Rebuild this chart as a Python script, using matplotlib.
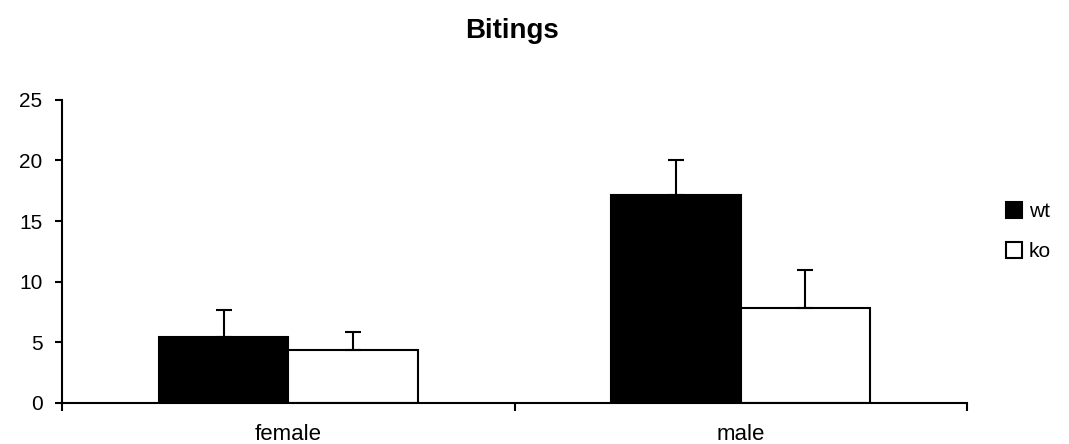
#!/usr/bin/env python3
"""Bitings bar chart: wt vs ko, female/male, one-sided error bars."""

import numpy as np
import matplotlib
matplotlib.use("Agg")
import matplotlib.pyplot as plt

plt.rcParams["font.family"] = ["Liberation Sans", "DejaVu Sans"]

# ----------------------
# Data
# ----------------------
categories = ["female", "male"]
series = ["wt", "ko"]
wt_mean = [5.45, 17.15]
wt_err = [2.2, 2.9]
ko_mean = [4.33, 7.79]
ko_err = [1.48, 3.17]
y_ticks = [0, 5, 10, 15, 20, 25]

# ----------------------
# Plot
# ----------------------
fig = plt.figure(figsize=(10.69, 4.44), dpi=100)
ax = fig.add_axes([0.058, 0.093, 0.8466, 0.682])

x = np.arange(len(categories)) + 0.5
w = 0.286
lw = 1.5
err_kw = dict(ecolor="black", elinewidth=lw, capsize=5.5, capthick=lw)

ax.bar(x - w / 2, wt_mean, w, color="black", edgecolor="black", linewidth=lw,
       yerr=[np.zeros(len(wt_err)), wt_err], error_kw=err_kw, label=series[0])
ax.bar(x + w / 2, ko_mean, w, color="white", edgecolor="black", linewidth=lw,
       yerr=[np.zeros(len(ko_err)), ko_err], error_kw=err_kw, label=series[1])

ax.set_xlim(0, len(categories))
ax.set_ylim(0, 25)
ax.set_yticks(y_ticks)
ax.tick_params(axis="y", direction="out", length=5, width=lw, labelsize=15, pad=9)

# boundary ticks at 0,1,2; category labels in between
ax.set_xticks(np.arange(len(categories) + 1))
ax.set_xticklabels([])
ax.set_xticks(x, minor=True)
ax.set_xticklabels(categories, minor=True, fontsize=16)
ax.tick_params(axis="x", which="major", direction="out", length=6, width=lw)
ax.tick_params(axis="x", which="minor", length=0, pad=15)

for s in ["top", "right"]:
    ax.spines[s].set_visible(False)
for s in ["left", "bottom"]:
    ax.spines[s].set_linewidth(lw)

fig.suptitle("Bitings", x=0.479, y=0.96, fontsize=20, fontweight="bold")

ax.legend(loc="center left", bbox_to_anchor=(1.022, 0.565), frameon=False,
          fontsize=15, handlelength=0.8, handleheight=0.8, handletextpad=0.3,
          labelspacing=1.0)

fig.savefig("out.png", dpi=100)
